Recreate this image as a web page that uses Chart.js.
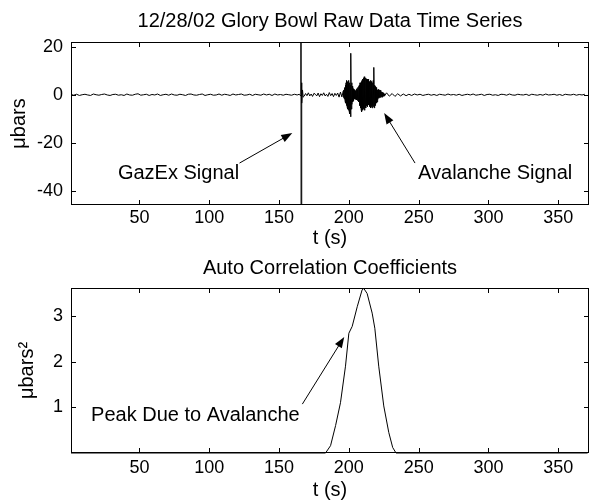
<!DOCTYPE html>
<html>
<head>
<meta charset="utf-8">
<script src="https://cdn.jsdelivr.net/npm/chart.js@4.4.0/dist/chart.umd.min.js"></script>
<style>
  body { margin: 0; background: #fff; }
  #wrap { position: relative; width: 590px; height: 502px; }
  canvas { position: absolute; left: 0; }
</style>
</head>
<body>
<div id="wrap">
  <canvas id="rawChart" width="590" height="250" style="top:0"></canvas>
  <canvas id="corrChart" width="590" height="252" style="top:250px"></canvas>
</div>
<script>
// raw pressure trace (ubars) in pieces
const quietBefore = [ // t = 1, 3, 5 ... 163
  0.1,-0.2,0.2,-0.3,0.0,0.2,-0.1,-0.3,0.3,0.0,
  -0.2,0.1,0.3,-0.1,-0.3,0.1,0.2,-0.2,0.0,-0.3,
  0.3,-0.1,-0.2,0.2,0.4,-0.2,0.0,0.2,-0.3,0.1,
  -0.1,0.3,-0.3,0.0,0.2,-0.2,0.3,-0.1,-0.2,0.2,
  0.0,-0.3,0.2,0.3,-0.1,-0.2,0.1,0.3,-0.3,0.0,
  0.2,-0.2,-0.1,0.3,-0.2,0.2,0.0,-0.3,0.3,-0.1,
  0.1,0.3,-0.2,-0.1,0.2,-0.3,0.2,0.0,-0.2,0.3,
  -0.1,0.2,-0.3,0.3,-0.1,0.1,-0.2,0.2,0.0,-0.2,
  0.2,-0.1
];
const gazexTimes  = [164.5, 165.5, 165.7, 165.8, 166.1, 166.4, 166.8, 167.3];
const gazexValues = [0.2, -0.5, 70, -70, 5, -3.5, 2, -1];
const preBurst = [ // t = 168 ... 195
  -0.6,0.5,-0.4,0.8,-0.5,0.3,-0.7,0.6,0.2,-0.5,
  0.7,-0.8,0.4,-0.3,0.8,-0.5,0.2,-0.7,0.9,-0.4,
  0.5,-0.8,0.6,-0.3,0.7,-1.0,1.1,-0.9
];
const burst = [ // t = 196 ... 225.75, every 0.25 s
  1.5,-1.2,2,-1.8,   3,-2.5,4,-3.5,     5,-4.5,6,-5,       5.5,-6,4.5,-6.5,
  6,-7,5,-8,         4,-9.2,17.3,-6,    5,-4,3.5,-3,       2.5,-2.5,2,-1.8,
  2.2,-1.5,1.5,-2,   1.8,-1.5,2.5,-2.2, 2,-2.5,3,-2,       3.5,-3,4,-4.5,
  5,-5.5,4.5,-6,     5.5,-7.1,6,-6.5,   6.5,-6,7,-5.5,     7.5,-6.5,6,-5,
  7,-5.5,6.5,-4.5,   6,-5,6.5,-4,       6.5,-4.3,5.5,-5,   5,-4.5,6,-5.5,
  5.5,-5,4.5,-5.5,   5,-4.5,6,-5,       11.4,-5.5,4,-4.5,  3.5,-4,3,-3.5,
  2.5,-3,2,-2,       2.2,-1.5,2,-1.2,   2,-1,1.8,-1.2,     1.5,-0.8,1.2,-1,
  1.0,-0.6,0.8,-0.7, 0.6,-0.5,0.4,-0.4
];
const quietAfter = [ // t = 227, 229 ... 369
  0.8,-0.6,0.5,-0.7,0.4,-0.5,0.3,-0.4,0.2,-0.3,
  0.3,-0.1,0.2,-0.3,0.0,0.2,-0.2,0.1,-0.3,0.2,
  0.0,-0.2,0.3,-0.1,0.1,-0.2,0.2,-0.3,0.0,0.2,
  -0.1,0.3,-0.2,0.0,0.2,-0.3,0.1,0.2,-0.2,0.0,
  -0.3,0.2,0.1,-0.2,0.3,-0.1,-0.2,0.2,0.0,-0.1,
  0.2,-0.3,0.2,0.0,-0.2,0.1,-0.2,0.3,-0.1,0.0,
  0.2,-0.2,0.1,-0.3,0.2,0.0,-0.1,0.2,-0.2,0.1,
  -0.1,0.2
];

// auto correlation (ubars^2)
const corrTimes  = [1, 183.3, 186.9, 190.5, 194, 197.6, 200, 202.4, 206, 209.5, 210.7, 213.1, 216.7, 218.6, 221.4, 225, 228.6, 231.4, 233.8, 371];
const corrValues = [0, 0, 0.16, 0.6, 1.1, 1.9, 2.62, 2.77, 3.2, 3.57, 3.6, 3.49, 3.06, 2.73, 1.9, 1.03, 0.45, 0.12, 0, 0];

const xTicks = [50, 100, 150, 200, 250, 300, 350];
const rawYTicks = [-40, -20, 0, 20];
const corrYTicks = [1, 2, 3];

const FONT = "'Liberation Sans', Arial, Helvetica, sans-serif";
const TXT = { family: FONT, size: 20, weight: 'normal' };
const TICK = { family: FONT, size: 18, weight: 'normal' };

function segment(start, step, values) {
    return values.map((v, i) => ({ x: start + i * step, y: v }));
}
function pairs(ts, vs) {
    return ts.map((t, i) => ({ x: t, y: vs[i] }));
}

const rawPoints = [].concat(
    segment(1, 2, quietBefore),
    pairs(gazexTimes, gazexValues),
    segment(168, 1, preBurst),
    segment(196, 0.25, burst),
    segment(227, 2, quietAfter)
);
const corrPoints = pairs(corrTimes, corrValues);

// box around the plot with small inward ticks, matlab style
const framePlugin = {
    id: 'frame',
    afterDatasetsDraw(chart) {
        const { ctx, chartArea: a, scales: { x, y } } = chart;
        ctx.save();
        ctx.strokeStyle = '#000';
        ctx.lineWidth = 1;
        ctx.strokeRect(Math.round(a.left) + 0.5, Math.round(a.top) + 0.5,
                       Math.round(a.width) - 1, Math.round(a.height) - 1);
        ctx.beginPath();
        x.ticks.forEach(t => {
            const px = Math.round(x.getPixelForValue(t.value)) + 0.5;
            ctx.moveTo(px, a.bottom); ctx.lineTo(px, a.bottom - 5);
            ctx.moveTo(px, a.top); ctx.lineTo(px, a.top + 5);
        });
        y.ticks.forEach(t => {
            const py = Math.round(y.getPixelForValue(t.value)) + 0.5;
            ctx.moveTo(a.left, py); ctx.lineTo(a.left + 5, py);
            ctx.moveTo(a.right, py); ctx.lineTo(a.right - 5, py);
        });
        ctx.stroke();
        ctx.restore();
    }
};

// text labels with arrows, given in data units
const notesPlugin = {
    id: 'notes',
    afterDatasetsDraw(chart, args, opts) {
        const { ctx, scales: { x, y } } = chart;
        ctx.save();
        ctx.fillStyle = '#000';
        ctx.strokeStyle = '#000';
        ctx.lineWidth = 1;
        ctx.font = `20px ${FONT}`;
        ctx.textAlign = 'center';
        ctx.textBaseline = 'middle';
        (opts.items || []).forEach(n => {
            ctx.fillText(n.text, x.getPixelForValue(n.at[0]), y.getPixelForValue(n.at[1]));
            const x0 = x.getPixelForValue(n.from[0]), y0 = y.getPixelForValue(n.from[1]);
            const x1 = x.getPixelForValue(n.to[0]), y1 = y.getPixelForValue(n.to[1]);
            const ang = Math.atan2(y1 - y0, x1 - x0);
            const len = 11, half = 4;
            ctx.beginPath();
            ctx.moveTo(x0, y0);
            ctx.lineTo(x1 - Math.cos(ang) * len * 0.8, y1 - Math.sin(ang) * len * 0.8);
            ctx.stroke();
            ctx.beginPath();
            ctx.moveTo(x1, y1);
            ctx.lineTo(x1 - Math.cos(ang) * len - Math.sin(ang) * half, y1 - Math.sin(ang) * len + Math.cos(ang) * half);
            ctx.lineTo(x1 - Math.cos(ang) * len + Math.sin(ang) * half, y1 - Math.sin(ang) * len - Math.cos(ang) * half);
            ctx.closePath();
            ctx.fill();
        });
        ctx.restore();
    }
};

function makeChart(canvasId, cfg) {
    return new Chart(document.getElementById(canvasId), {
        type: 'line',
        data: {
            datasets: [{
                data: cfg.points,
                borderColor: '#000',
                borderWidth: 1,
                pointRadius: 0,
                tension: 0,
                fill: false,
                clip: cfg.clip
            }]
        },
        options: {
            responsive: false,
            animation: false,
            events: [],
            layout: { padding: { top: 0, right: 1, bottom: 0, left: 0 } },
            plugins: {
                legend: { display: false },
                tooltip: { enabled: false },
                title: {
                    display: true,
                    fullSize: false,
                    text: cfg.title,
                    color: '#000',
                    font: TXT,
                    padding: cfg.titlePad
                },
                notes: { items: cfg.notes }
            },
            scales: {
                x: {
                    type: 'linear',
                    min: 1,
                    max: 372,
                    grid: { display: false, drawTicks: false },
                    border: { display: false },
                    afterBuildTicks: s => { s.ticks = xTicks.map(v => ({ value: v })); },
                    afterFit: s => { s.height = cfg.xHeight; },
                    ticks: { color: '#000', padding: cfg.xTickPad, maxRotation: 0, font: TICK },
                    title: {
                        display: true,
                        text: 't (s)',
                        color: '#000',
                        font: TXT,
                        padding: { top: 0, bottom: cfg.xTitlePad }
                    }
                },
                y: {
                    min: cfg.yMin,
                    max: cfg.yMax,
                    grid: { display: false, drawTicks: false },
                    border: { display: false },
                    afterBuildTicks: s => { s.ticks = cfg.yTicks.map(v => ({ value: v })); },
                    afterFit: s => { s.width = 71; },
                    ticks: { color: '#000', padding: 8, font: TICK },
                    title: {
                        display: true,
                        text: cfg.yTitle,
                        color: '#000',
                        font: TXT,
                        padding: { top: cfg.yTitlePad, bottom: 0 }
                    }
                }
            }
        },
        plugins: [framePlugin, notesPlugin]
    });
}

makeChart('rawChart', {
    points: rawPoints,
    clip: 0,
    title: '12/28/02 Glory Bowl Raw Data Time Series',
    titlePad: { top: 9, bottom: 9 },
    yMin: -46, yMax: 22,
    yTicks: rawYTicks,
    yTitle: 'μbars',
    yTitlePad: 7,
    xHeight: 45,
    xTickPad: 2,
    xTitlePad: 0,
    notes: [
        { text: 'GazEx Signal', at: [78, -32.7], from: [121.7, -28.5], to: [159.5, -16] },
        { text: 'Avalanche Signal', at: [304.8, -32.7], from: [247.4, -28.5], to: [225.3, -7.6] }
    ]
});

makeChart('corrChart', {
    points: corrPoints,
    clip: { left: 0, right: 0, top: 0, bottom: 2 },
    title: 'Auto Correlation Coefficients',
    titlePad: { top: 6, bottom: 8 },
    yMin: 0, yMax: 3.61,
    yTicks: corrYTicks,
    yTitle: 'μbars²',
    yTitlePad: 15,
    xHeight: 49,
    xTickPad: 4,
    xTitlePad: 0,
    notes: [
        { text: 'Peak Due to Avalanche', at: [90.1, 0.83], from: [166.7, 1.07], to: [196.7, 2.54] }
    ]
});
</script>
</body>
</html>
